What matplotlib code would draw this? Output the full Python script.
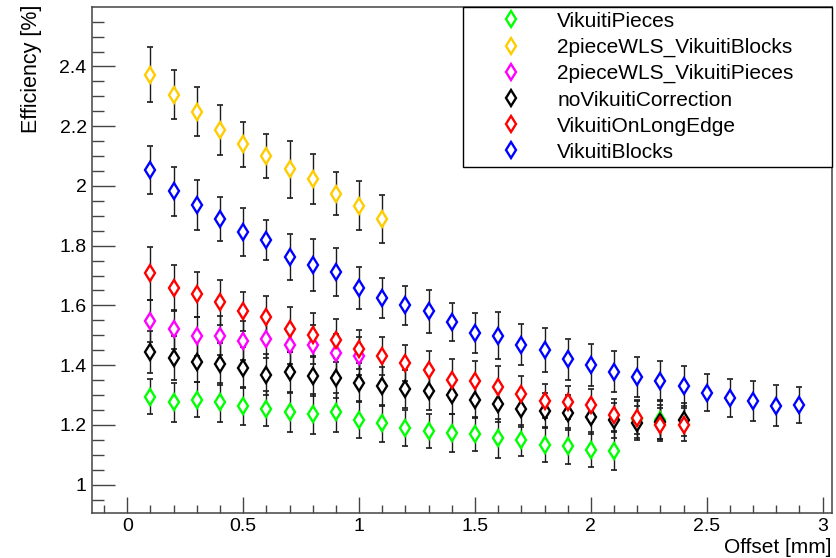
import matplotlib
matplotlib.use("Agg")
import matplotlib.pyplot as plt
from matplotlib.lines import Line2D
from matplotlib.ticker import MultipleLocator, FuncFormatter

plt.rcParams['font.family'] = ['Liberation Sans', 'DejaVu Sans']

# offsets (mm)
x_all = [0.1, 0.2, 0.3, 0.4, 0.5, 0.6, 0.7, 0.8, 0.9, 1.0,
         1.1, 1.2, 1.3, 1.4, 1.5, 1.6, 1.7, 1.8, 1.9, 2.0,
         2.1, 2.2, 2.3, 2.4, 2.5, 2.6, 2.7, 2.8, 2.9]

labels = ["VikuitiPieces", "2pieceWLS_VikuitiBlocks", "2pieceWLS_VikuitiPieces",
          "noVikuitiCorrection", "VikuitiOnLongEdge", "VikuitiBlocks"]
colors = ["#00ff00", "#ffcc00", "#ff00ff", "#000000", "#ff0000", "#0000ff"]

eff_pieces = [1.295, 1.276, 1.284, 1.276, 1.264, 1.254, 1.242, 1.237, 1.242, 1.217,
              1.205, 1.190, 1.179, 1.173, 1.170, 1.155, 1.148, 1.134, 1.129, 1.117,
              1.113, 1.220, 1.218]
err_pieces = [0.059, 0.065, 0.058, 0.065, 0.063, 0.059, 0.066, 0.066, 0.066, 0.062,
              0.061, 0.060, 0.056, 0.064, 0.058, 0.065, 0.052, 0.058, 0.061, 0.059,
              0.064, 0.064, 0.064]

eff_2p_blocks = [2.373, 2.306, 2.249, 2.188, 2.139, 2.100, 2.055, 2.022, 1.974, 1.934, 1.890]
err_2p_blocks = [0.093, 0.082, 0.082, 0.083, 0.076, 0.074, 0.096, 0.084, 0.073, 0.082, 0.080]

eff_2p_pieces = [1.548, 1.520, 1.496, 1.499, 1.482, 1.489, 1.469, 1.469, 1.439, 1.431]
err_2p_pieces = [0.071, 0.066, 0.066, 0.066, 0.065, 0.066, 0.065, 0.065, 0.064, 0.064]

eff_novik = [1.444, 1.423, 1.412, 1.405, 1.392, 1.368, 1.377, 1.365, 1.356, 1.341,
             1.329, 1.320, 1.314, 1.299, 1.284, 1.271, 1.254, 1.248, 1.241, 1.226,
             1.215, 1.207, 1.210, 1.218]
err_novik = [0.070, 0.073, 0.070, 0.070, 0.069, 0.068, 0.068, 0.067, 0.067, 0.066,
             0.065, 0.064, 0.064, 0.063, 0.062, 0.061, 0.060, 0.060, 0.059, 0.058,
             0.058, 0.057, 0.057, 0.056]

eff_longedge = [1.707, 1.658, 1.637, 1.610, 1.580, 1.560, 1.520, 1.501, 1.484, 1.453,
                1.431, 1.407, 1.384, 1.351, 1.347, 1.327, 1.305, 1.280, 1.275, 1.265,
                1.233, 1.224, 1.201, 1.201]
err_longedge = [0.089, 0.078, 0.076, 0.076, 0.066, 0.071, 0.076, 0.074, 0.072, 0.065,
                0.063, 0.060, 0.062, 0.069, 0.067, 0.069, 0.060, 0.056, 0.056, 0.055,
                0.055, 0.055, 0.055, 0.055]

eff_blocks = [2.054, 1.982, 1.937, 1.889, 1.846, 1.819, 1.761, 1.734, 1.712, 1.658,
              1.626, 1.600, 1.580, 1.545, 1.507, 1.499, 1.468, 1.451, 1.419, 1.401,
              1.378, 1.361, 1.347, 1.330, 1.308, 1.290, 1.280, 1.264, 1.267]
err_blocks = [0.080, 0.083, 0.083, 0.075, 0.080, 0.066, 0.077, 0.087, 0.080, 0.069,
              0.067, 0.064, 0.071, 0.063, 0.067, 0.080, 0.069, 0.075, 0.070, 0.070,
              0.068, 0.066, 0.066, 0.066, 0.063, 0.064, 0.067, 0.069, 0.060]

series = [(eff_pieces, err_pieces), (eff_2p_blocks, err_2p_blocks),
          (eff_2p_pieces, err_2p_pieces), (eff_novik, err_novik),
          (eff_longedge, err_longedge), (eff_blocks, err_blocks)]

W, H = 836, 558
fig = plt.figure(figsize=(W / 100, H / 100), dpi=100)
ax = fig.add_axes([92.3 / W, 1 - 512.7 / H, (831.7 - 92.3) / W, (512.7 - 7) / H])

frame_col = "#444444"
for (yv, ev), col in zip(series, colors):
    xv = x_all[:len(yv)]
    ax.errorbar(xv, yv, yerr=ev, fmt='none', ecolor='#1a1a1a', elinewidth=1.0,
                capsize=2.5, capthick=1.2, zorder=2)
    ax.plot(xv, yv, 'd', mfc='white', mec=col, ms=8.5, mew=1.7, zorder=3)

ax.set_xlim(-0.151, 3.039)
ax.set_ylim(0.906, 2.599)

ax.xaxis.set_major_locator(MultipleLocator(0.5))
ax.xaxis.set_minor_locator(MultipleLocator(0.1))
ax.yaxis.set_major_locator(MultipleLocator(0.2))
ax.yaxis.set_minor_locator(MultipleLocator(0.05))
fmt = FuncFormatter(lambda v, p: "%g" % round(v, 3))
ax.xaxis.set_major_formatter(fmt)
ax.yaxis.set_major_formatter(fmt)

ax.tick_params(axis='both', which='both', direction='in', color=frame_col,
               width=1.0, labelsize=14, top=False, right=False)
ax.tick_params(axis='y', which='major', length=16.3, pad=4)
ax.tick_params(axis='y', which='minor', length=8.5)
ax.tick_params(axis='x', which='major', length=11.5, pad=4)
ax.tick_params(axis='x', which='minor', length=6)
for sp in ax.spines.values():
    sp.set_color(frame_col)
    sp.set_linewidth(1.1)

fig.text(831.7 / W, 1 - 538 / H, "Offset [mm]", ha='right', va='top', fontsize=15)
fig.text(31.7 / W, 1 - 5 / H, "Efficiency [%]", rotation=90, ha='center', va='top',
         fontsize=15.5)

handles = [Line2D([], [], ls='none', marker='d', mfc='white', mec=c, ms=8.5, mew=1.7)
           for c in colors]
leg = ax.legend(handles, labels, loc='upper left',
                bbox_to_anchor=(463 / W, 1 - 7 / H, (832 - 463) / W, 0),
                bbox_transform=fig.transFigure, mode='expand', borderaxespad=0,
                borderpad=0.23, labelspacing=0.34, handlelength=4.1,
                handletextpad=0.2, fontsize=15, fancybox=False, framealpha=1,
                edgecolor='black')
leg.get_frame().set_linewidth(1.0)

fig.savefig("out.png", dpi=100)
